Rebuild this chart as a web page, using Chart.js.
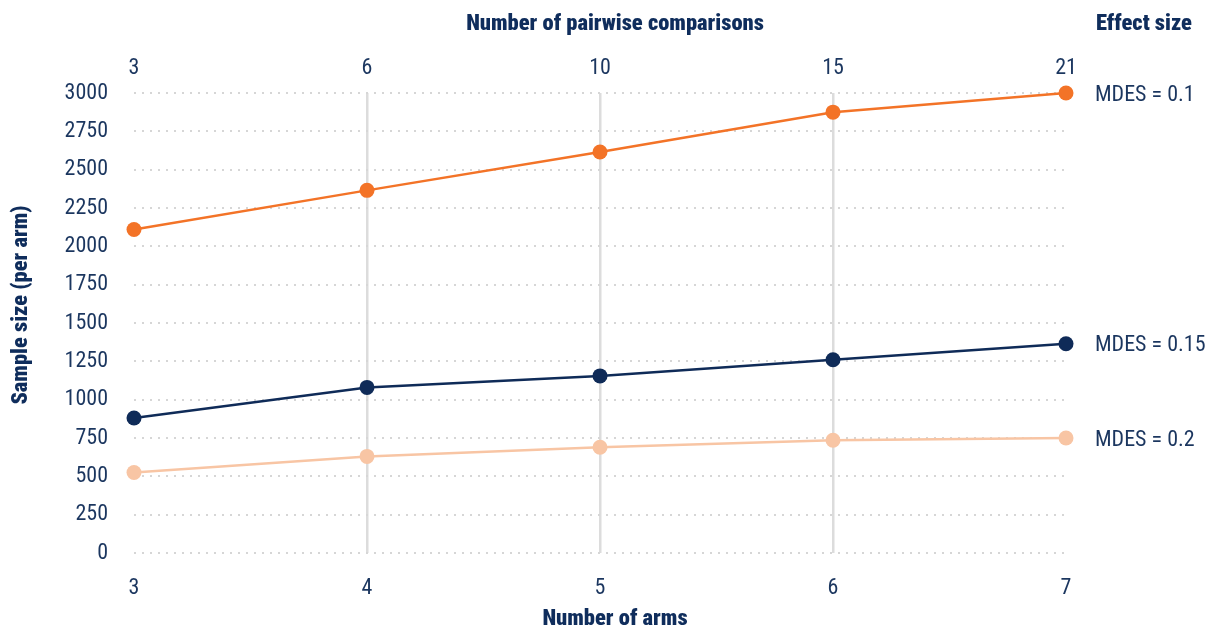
<!DOCTYPE html>
<html>
<head>
<meta charset="utf-8">
<script src="https://cdn.jsdelivr.net/npm/chart.js@4"></script>
<style>
  html, body { margin: 0; padding: 0; background: #ffffff; }
  #wrap { width: 1213px; height: 630px; position: relative; }
</style>
</head>
<body>
<div id="wrap"><canvas id="chart" width="1213" height="630"></canvas></div>
<script>
// Number of arms (bottom axis) and the matching pairwise comparisons (top axis)
const arms = [3, 4, 5, 6, 7];
const comparisons = [3, 6, 10, 15, 21];

// Sample size per arm, one series per minimum detectable effect size
const mdes010 = [2110, 2365, 2615, 2875, 3000];
const mdes015 = [880, 1080, 1155, 1260, 1365];
const mdes020 = [525, 630, 690, 735, 750];

const seriesLabels = ['MDES = 0.1', 'MDES = 0.15', 'MDES = 0.2'];
const yTicks = [0, 250, 500, 750, 1000, 1250, 1500, 1750, 2000, 2250, 2500, 2750, 3000];

const NAVY = '#0f2d5c';
const TEXT = '#1b365f';
const ORANGE = '#f37327';
const DARK = '#0f2b58';
const PEACH = '#f8c5a4';
const FONT = '"Roboto Condensed", "Barlow Condensed", "Archivo Narrow", sans-serif';

const toPoints = vals => vals.map((v, i) => ({ x: arms[i], y: v }));

// Axis titles and the effect-size labels at the end of each line
const annotations = {
  id: 'annotations',
  afterDraw(chart) {
    const { ctx } = chart;
    const xs = chart.scales.x;
    const ys = chart.scales.y;
    ctx.save();
    ctx.fillStyle = NAVY;
    ctx.font = '900 22.5px ' + FONT;
    ctx.textBaseline = 'middle';
    ctx.textAlign = 'center';
    ctx.fillText('Number of pairwise comparisons', 615, 24);
    ctx.fillText('Number of arms', 615, 619);
    ctx.textAlign = 'left';
    ctx.fillText('Effect size', 1096, 24);
    ctx.save();
    ctx.translate(21, 305);
    ctx.rotate(-Math.PI / 2);
    ctx.textAlign = 'center';
    ctx.fillText('Sample size (per arm)', 0, 0);
    ctx.restore();

    ctx.font = '22px ' + FONT;
    ctx.fillStyle = TEXT;
    ctx.textAlign = 'left';
    chart.data.datasets.forEach((ds, i) => {
      const last = ds.data[ds.data.length - 1];
      ctx.fillText(seriesLabels[i], xs.getPixelForValue(last.x) + 29, ys.getPixelForValue(last.y) + 2);
    });
    ctx.restore();
  }
};

new Chart(document.getElementById('chart'), {
  type: 'line',
  data: {
    datasets: [
      { label: seriesLabels[0], data: toPoints(mdes010), borderColor: ORANGE, backgroundColor: ORANGE },
      { label: seriesLabels[1], data: toPoints(mdes015), borderColor: DARK, backgroundColor: DARK },
      { label: seriesLabels[2], data: toPoints(mdes020), borderColor: PEACH, backgroundColor: PEACH }
    ]
  },
  options: {
    responsive: false,
    animation: false,
    layout: { padding: { left: 0, right: 147, top: 0, bottom: 0 } },
    elements: {
      line: { borderWidth: 2.5, tension: 0 },
      point: { radius: 7.5, hoverRadius: 7.5, borderWidth: 0 }
    },
    datasets: { line: { clip: false } },
    plugins: { legend: { display: false }, tooltip: { enabled: false } },
    scales: {
      x: {
        type: 'linear',
        position: 'bottom',
        min: 3, max: 7,
        afterBuildTicks: s => { s.ticks = arms.map(v => ({ value: v })); },
        afterFit: s => { s.height = 77; },
        border: { display: false },
        grid: {
          drawTicks: false,
          lineWidth: 2.5,
          color: c => (c.tick && (c.tick.value === 3 || c.tick.value === 7)) ? 'rgba(0,0,0,0)' : '#dcdcdc'
        },
        ticks: { color: TEXT, font: { family: FONT, size: 22 }, padding: 22, callback: v => String(v) }
      },
      xTop: {
        type: 'linear',
        position: 'top',
        min: 3, max: 7,
        afterBuildTicks: s => { s.ticks = arms.map(v => ({ value: v })); },
        afterFit: s => { s.height = 93; },
        border: { display: false },
        grid: { display: false, drawTicks: false },
        ticks: {
          color: TEXT, font: { family: FONT, size: 22 }, padding: 11,
          callback: v => String(comparisons[arms.indexOf(v)])
        }
      },
      y: {
        min: 0, max: 3000,
        afterBuildTicks: s => { s.ticks = yTicks.map(v => ({ value: v })); },
        afterFit: s => { s.width = 134; },
        border: { display: false, dash: [2, 6] },
        grid: {
          drawTicks: false,
          color: '#d6d6d6',
          lineWidth: 2
        },
        ticks: { color: TEXT, font: { family: FONT, size: 22 }, padding: 26, callback: v => String(v) }
      }
    }
  },
  plugins: [annotations]
});
</script>
</body>
</html>
